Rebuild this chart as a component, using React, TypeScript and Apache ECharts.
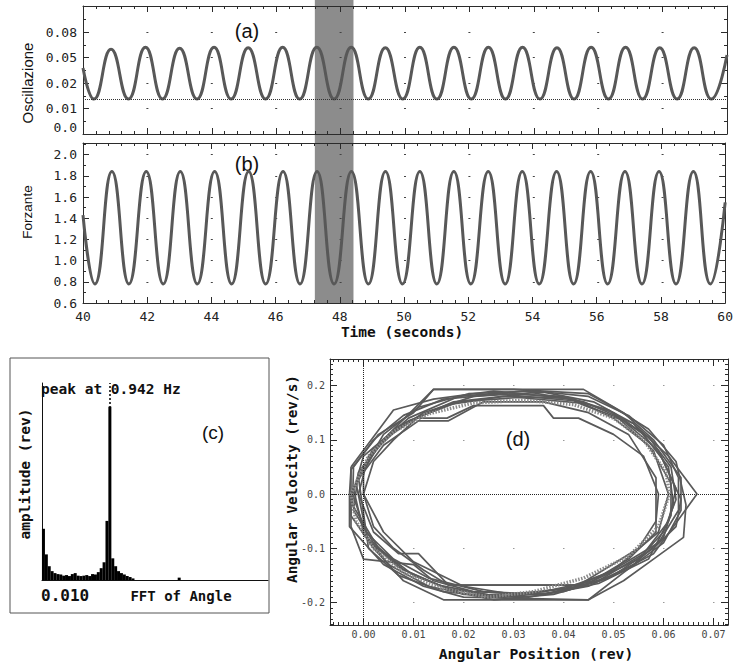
import React, { useEffect, useRef } from "react";
import * as echarts from "echarts";

// ---------- data ----------
const TIME_MIN = 40;
const TIME_MAX = 60;
const TIME_STEP = 2;
const HIGHLIGHT_WINDOW = [47.2, 48.4];

// panel (a): oscillation (plotted on an index scale, labelled with the printed ticks)
const OSC_TICK_LABELS = ["0.0", "0.01", "0.02", "0.05", "0.08"];
const OSC_TIMES = [
  40, 40.34, 40.87, 41.41, 41.94, 42.47, 43.0, 43.54, 44.07, 44.6, 45.13, 45.67, 46.2,
  46.73, 47.26, 47.8, 48.33, 48.86, 49.39, 49.93, 50.46, 50.99, 51.52, 52.06, 52.59,
  53.12, 53.65, 54.19, 54.72, 55.25, 55.78, 56.32, 56.85, 57.38, 57.91, 58.45, 58.98,
  59.51, 60,
];
const OSC_VALUES = [
  2.59, 1.37, 3.32, 1.37, 3.4, 1.37, 3.36, 1.37, 3.4, 1.37, 3.38, 1.37, 3.4, 1.37, 3.4,
  1.37, 3.4, 1.37, 3.38, 1.37, 3.4, 1.37, 3.4, 1.37, 3.4, 1.37, 3.4, 1.37, 3.38, 1.37,
  3.4, 1.37, 3.4, 1.37, 3.38, 1.37, 3.38, 1.37, 3.1,
];
const OSC_BASELINE = 1.37;

// panel (b): forcing
const FORCE_TIMES = [
  40, 40.37, 40.9, 41.43, 41.97, 42.5, 43.03, 43.56, 44.1, 44.63, 45.16, 45.69, 46.23,
  46.76, 47.29, 47.82, 48.36, 48.89, 49.42, 49.95, 50.49, 51.02, 51.55, 52.08, 52.62,
  53.15, 53.68, 54.21, 54.75, 55.28, 55.81, 56.34, 56.88, 57.41, 57.94, 58.47, 59.01,
  59.54, 60,
];
const FORCE_VALUES = [
  1.43, 0.78, 1.84, 0.78, 1.84, 0.78, 1.84, 0.78, 1.84, 0.78, 1.84, 0.78, 1.84, 0.78,
  1.84, 0.78, 1.84, 0.78, 1.84, 0.78, 1.84, 0.78, 1.84, 0.78, 1.84, 0.78, 1.84, 0.78,
  1.84, 0.78, 1.84, 0.78, 1.84, 0.78, 1.84, 0.78, 1.84, 0.78, 1.55,
];

// panel (c): FFT of angle
const FFT_FREQS = [
  0.02, 0.06, 0.1, 0.14, 0.18, 0.22, 0.26, 0.3, 0.34, 0.38, 0.42, 0.46, 0.5, 0.54, 0.58,
  0.62, 0.66, 0.7, 0.74, 0.78, 0.82, 0.86, 0.9, 0.94, 0.98, 1.02, 1.06, 1.1, 1.14, 1.18,
  1.22, 1.26, 1.9,
];
const FFT_AMPS = [
  0.26, 0.13, 0.07, 0.045, 0.035, 0.03, 0.028, 0.022, 0.025, 0.02, 0.03, 0.035, 0.022,
  0.02, 0.022, 0.025, 0.02, 0.03, 0.028, 0.04, 0.06, 0.09, 0.3, 0.88, 0.11, 0.07, 0.045,
  0.035, 0.028, 0.02, 0.015, 0.008, 0.012,
];
const FFT_PEAK_HZ = 0.942;

// panel (d): phase portrait loops [position (rev), velocity (rev/s)]
const LOOP_1 = [
  [-0.0025, 0.0], [0.0, 0.05], [0.005, 0.11], [0.014, 0.193], [0.044, 0.193], [0.052, 0.15],
  [0.058, 0.1], [0.0635, 0.03], [0.0635, -0.03], [0.06, -0.09], [0.052, -0.145],
  [0.045, -0.195], [0.016, -0.195], [0.008, -0.16], [0.002, -0.1], [-0.0025, -0.04],
  [-0.0025, 0.0],
];
const LOOP_2 = [
  [0.0, 0.0], [0.0, 0.04], [0.004, 0.09], [0.011, 0.135], [0.017, 0.135], [0.024, 0.17],
  [0.036, 0.17], [0.045, 0.15], [0.053, 0.11], [0.0585, 0.03], [0.0585, -0.07],
  [0.053, -0.12], [0.044, -0.17], [0.03, -0.185], [0.02, -0.17], [0.01, -0.125],
  [0.004, -0.07], [0.0, 0.0],
];
const LOOP_3 = [
  [-0.002, 0.01], [0.003, 0.09], [0.009, 0.14], [0.019, 0.18], [0.032, 0.19], [0.044, 0.17],
  [0.054, 0.13], [0.061, 0.07], [0.0667, 0.0], [0.062, -0.06], [0.058, -0.11],
  [0.049, -0.155], [0.038, -0.185], [0.026, -0.195], [0.013, -0.17], [0.005, -0.13],
  [0.0, -0.07], [-0.002, 0.01],
];
const LOOP_4 = [
  [-0.0022, -0.02], [-0.002, 0.05], [0.002, 0.1], [0.008, 0.145], [0.016, 0.175],
  [0.028, 0.185], [0.04, 0.18], [0.049, 0.155], [0.056, 0.11], [0.061, 0.05], [0.062, -0.02],
  [0.06, -0.08], [0.054, -0.13], [0.045, -0.17], [0.033, -0.19], [0.02, -0.185],
  [0.01, -0.15], [0.003, -0.1], [-0.0022, -0.02],
];
const LOOP_5 = [
  [-0.0025, 0.05], [0.006, 0.155], [0.014, 0.175], [0.026, 0.19], [0.042, 0.175],
  [0.05, 0.14], [0.057, 0.09], [0.0615, 0.02], [0.0615, -0.04], [0.057, -0.12],
  [0.047, -0.165], [0.036, -0.185], [0.022, -0.18], [0.014, -0.16], [0.01, -0.13],
  [0.0, -0.12], [-0.0025, -0.06], [-0.0025, 0.05],
];
const LOOP_6 = [
  [-0.001, 0.0], [0.001, 0.07], [0.008, 0.13], [0.018, 0.17], [0.03, 0.182], [0.042, 0.172],
  [0.051, 0.14], [0.058, 0.08], [0.061, 0.0], [0.059, -0.07], [0.05, -0.14], [0.043, -0.168],
  [0.017, -0.168], [0.011, -0.11], [0.007, -0.11], [0.002, -0.07], [-0.001, 0.0],
];
const LOOP_7 = [
  [-0.0015, 0.02], [0.002, 0.085], [0.009, 0.135], [0.019, 0.17], [0.031, 0.178],
  [0.043, 0.168], [0.052, 0.135], [0.059, 0.08], [0.0625, 0.01], [0.061, -0.05],
  [0.056, -0.11], [0.047, -0.16], [0.036, -0.185], [0.024, -0.18], [0.013, -0.155],
  [0.006, -0.12], [0.0005, -0.07], [-0.0015, 0.02],
];
const LOOP_8 = [
  [-0.002, -0.03], [-0.001, 0.04], [0.004, 0.1], [0.012, 0.15], [0.022, 0.18], [0.036, 0.188],
  [0.046, 0.17], [0.054, 0.13], [0.0595, 0.07], [0.0635, -0.01], [0.0625, -0.06],
  [0.058, -0.1], [0.05, -0.15], [0.04, -0.18], [0.028, -0.19], [0.017, -0.175],
  [0.008, -0.14], [0.002, -0.09], [-0.002, -0.03],
];
const LOOP_9 = [
  [0.0, 0.0], [0.002, 0.06], [0.006, 0.1], [0.0107, 0.14], [0.0167, 0.14], [0.022, 0.163],
  [0.036, 0.163], [0.038, 0.14], [0.043, 0.14], [0.05, 0.11], [0.056, 0.07], [0.059, 0.0],
  [0.0585, -0.05], [0.055, -0.1], [0.048, -0.14], [0.043, -0.168], [0.017, -0.168],
  [0.012, -0.14], [0.006, -0.1], [0.002, -0.06], [0.0, 0.0],
];
const LOOP_10 = [
  [-0.0028, 0.0], [-0.0025, 0.045], [0.003, 0.11], [0.01, 0.15], [0.014, 0.193], [0.03, 0.193],
  [0.045, 0.185], [0.05, 0.16], [0.057, 0.12], [0.0625, 0.06], [0.0645, -0.02], [0.064, -0.08],
  [0.058, -0.12], [0.052, -0.16], [0.045, -0.195], [0.02, -0.19], [0.012, -0.17],
  [0.004, -0.13], [-0.0028, -0.06], [-0.0028, 0.0],
];
const LOOP_11 = [
  [-0.001, 0.03], [0.004, 0.11], [0.011, 0.16], [0.021, 0.185], [0.034, 0.19], [0.045, 0.18],
  [0.053, 0.145], [0.06, 0.09], [0.063, 0.03], [0.063, -0.03], [0.059, -0.09],
  [0.049, -0.145], [0.04, -0.175], [0.027, -0.19], [0.016, -0.18], [0.007, -0.15],
  [0.001, -0.1], [-0.001, 0.03],
];
const LOOP_12 = [
  [-0.0022, 0.0], [0.0, 0.07], [0.007, 0.125], [0.017, 0.165], [0.028, 0.18], [0.041, 0.177],
  [0.05, 0.15], [0.057, 0.105], [0.0615, 0.05], [0.0625, -0.01], [0.06, -0.07],
  [0.055, -0.12], [0.046, -0.16], [0.036, -0.18], [0.025, -0.186], [0.015, -0.168],
  [0.007, -0.135], [0.001, -0.085], [-0.0022, 0.0],
];
const LOOP_LIGHT = [
  [-0.0025, 0.0], [0.001, 0.07], [0.006, 0.115], [0.013, 0.148], [0.022, 0.168],
  [0.032, 0.173], [0.042, 0.165], [0.05, 0.14], [0.056, 0.1], [0.0605, 0.04], [0.0612, 0.0],
  [0.059, -0.06], [0.053, -0.115], [0.044, -0.155], [0.034, -0.18], [0.025, -0.19],
  [0.016, -0.175], [0.008, -0.145], [0.002, -0.1], [-0.0015, -0.05], [-0.0025, 0.0],
];
const DARK_LOOPS = [
  LOOP_1, LOOP_2, LOOP_3, LOOP_4, LOOP_5, LOOP_6, LOOP_7, LOOP_8, LOOP_9, LOOP_10, LOOP_11,
  LOOP_12,
];

// ---------- styling helpers ----------
const MONO = "'DejaVu Sans Mono', monospace";
const SANS = "'Liberation Sans', Arial, sans-serif";
const AX = "#2b2b2b";

const zip = (xs: number[], ys: number[]) => xs.map((x, i) => [x, ys[i]]);

function timeAxis(gridIndex: number, position: string, showLabels: boolean) {
  return {
    type: "value",
    gridIndex,
    position,
    min: TIME_MIN,
    max: TIME_MAX,
    interval: TIME_STEP,
    axisLine: { show: true, onZero: false, lineStyle: { color: AX, width: 1 } },
    axisTick: { show: true, inside: true, length: 6, lineStyle: { color: AX } },
    minorTick: { show: true, splitNumber: 5, length: 3, lineStyle: { color: AX } },
    axisLabel: {
      show: showLabels,
      margin: 7,
      color: "#222",
      fontFamily: MONO,
      fontSize: 13,
    },
    splitLine: { show: false },
  };
}

function valueAxis(gridIndex: number, position: string, showLabels: boolean, o: any) {
  return {
    type: "value",
    gridIndex,
    position,
    min: o.min,
    max: o.max,
    interval: o.interval,
    splitNumber: o.splitNumber,
    axisLine: { show: true, onZero: false, lineStyle: { color: AX, width: 1 } },
    axisTick: { show: true, inside: true, length: o.tickLen ?? 6, lineStyle: { color: AX } },
    minorTick: { show: true, splitNumber: o.minor, length: 3, lineStyle: { color: AX } },
    axisLabel: {
      show: showLabels,
      margin: o.margin ?? 6,
      color: o.labelColor ?? "#222",
      fontFamily: MONO,
      fontSize: o.fontSize ?? 13,
      formatter: o.formatter,
      showMinLabel: o.showMinLabel,
      showMaxLabel: false,
      verticalAlignMinLabel: o.vAlignMin,
    },
    splitLine: o.split
      ? {
          show: true,
          showMinLine: false,
          showMaxLine: false,
          lineStyle: o.split,
        }
      : { show: false },
  };
}

function hiddenAxis(gridIndex: number, min: number, max: number) {
  return {
    type: "value",
    gridIndex,
    min,
    max,
    show: false,
    axisLine: { show: false, onZero: false },
    splitLine: { show: false },
  };
}

function boldText(text: string, x: number, y: number, size: number, rotate = 0, align = "center") {
  return {
    type: "text",
    x,
    y,
    rotation: rotate,
    style: {
      text,
      font: `bold ${size}px ${MONO}`,
      fill: "#111",
      align,
      verticalAlign: "middle",
    },
  };
}

function sansText(text: string, x: number, y: number, size: number, rotate = 0) {
  return {
    type: "text",
    x,
    y,
    rotation: rotate,
    style: {
      text,
      font: `${size}px ${SANS}`,
      fill: "#111",
      align: "center",
      verticalAlign: "middle",
    },
  };
}

export default function App() {
  const ref = useRef<HTMLDivElement>(null);

  useEffect(() => {
    if (!ref.current) return;
    const chart = echarts.init(ref.current, null, { renderer: "svg" });

    const timeDots = { color: "#444", width: 1, type: [2, 62.4], dashOffset: 1 };
    const phaseDots = { color: "#9a9a9a", width: 1, type: [1.5, 48.5], dashOffset: 17.45 };

    const option: any = {
      animation: false,
      backgroundColor: "#ffffff",
      grid: [
        { left: 83, top: 0, width: 644, height: 303 }, // band
        { left: 83, top: 6, width: 644, height: 128 }, // (a)
        { left: 83, top: 143, width: 644, height: 160 }, // (b)
        { left: 42, top: 383, width: 226, height: 197 }, // (c)
        { left: 330, top: 359, width: 398, height: 266 }, // (d)
      ],
      xAxis: [
        hiddenAxis(0, TIME_MIN, TIME_MAX),
        timeAxis(1, "bottom", false),
        timeAxis(1, "top", false),
        timeAxis(2, "bottom", true),
        timeAxis(2, "top", false),
        {
          type: "value",
          gridIndex: 3,
          min: 0,
          max: 3.13,
          axisLine: { show: true, onZero: false, lineStyle: { color: "#111" } },
          axisTick: { show: false },
          axisLabel: { show: false },
          splitLine: { show: false },
        },
        valueAxis(4, "bottom", true, {
          min: -0.0067,
          max: 0.0729,
          splitNumber: 8,
          minor: 10,
          tickLen: 7,
          margin: 4,
          fontSize: 10,
          labelColor: "#444",
          showMinLabel: false,
          formatter: (v: number) => v.toFixed(2),
        }),
        valueAxis(4, "top", false, { min: -0.0067, max: 0.0729, splitNumber: 8, minor: 10, tickLen: 7 }),
      ],
      yAxis: [
        hiddenAxis(0, 0, 1),
        valueAxis(1, "left", true, {
          min: 0,
          max: 5.02,
          interval: 1,
          minor: 2,
          vAlignMin: "bottom",
          formatter: (v: number) => OSC_TICK_LABELS[Math.round(v)] ?? "",
          split: timeDots,
        }),
        valueAxis(1, "right", false, { min: 0, max: 5.02, interval: 1, minor: 2 }),
        valueAxis(2, "left", true, {
          min: 0.6,
          max: 2.11,
          interval: 0.2,
          minor: 2,
          formatter: (v: number) => v.toFixed(1),
          split: timeDots,
        }),
        valueAxis(2, "right", false, { min: 0.6, max: 2.11, interval: 0.2, minor: 2 }),
        {
          type: "value",
          gridIndex: 3,
          min: 0,
          max: 1,
          axisLine: { show: true, onZero: false, lineStyle: { color: "#111" } },
          axisTick: { show: false },
          axisLabel: { show: false },
          splitLine: { show: false },
        },
        valueAxis(4, "left", true, {
          min: -0.2415,
          max: 0.249,
          splitNumber: 5,
          minor: 10,
          tickLen: 7,
          margin: 5,
          fontSize: 10,
          labelColor: "#444",
          showMinLabel: false,
          formatter: (v: number) => (Math.abs(v) < 1e-9 ? "0.0" : v.toFixed(1)),
          split: phaseDots,
        }),
        valueAxis(4, "right", false, { min: -0.2415, max: 0.249, splitNumber: 5, minor: 10, tickLen: 7 }),
      ],
      series: [
        {
          type: "line",
          xAxisIndex: 0,
          yAxisIndex: 0,
          data: [[HIGHLIGHT_WINDOW[0], 0.5]],
          symbol: "none",
          lineStyle: { opacity: 0 },
          silent: true,
          z: -1,
          markArea: {
            silent: true,
            z: -1,
            itemStyle: { color: "#8c8c8c", opacity: 1 },
            data: [[{ xAxis: HIGHLIGHT_WINDOW[0] }, { xAxis: HIGHLIGHT_WINDOW[1] }]],
          },
        },
        {
          type: "line",
          xAxisIndex: 1,
          yAxisIndex: 1,
          data: zip(OSC_TIMES, OSC_VALUES),
          smooth: 0.5,
          symbol: "none",
          lineStyle: { color: "#585858", width: 3 },
          markLine: {
            silent: true,
            symbol: ["none", "none"],
            label: { show: false },
            lineStyle: { color: "#333", type: "dotted", width: 1 },
            data: [{ yAxis: OSC_BASELINE }],
          },
        },
        {
          type: "line",
          xAxisIndex: 3,
          yAxisIndex: 3,
          data: zip(FORCE_TIMES, FORCE_VALUES),
          smooth: 0.5,
          symbol: "none",
          lineStyle: { color: "#585858", width: 3 },
        },
        {
          type: "bar",
          xAxisIndex: 5,
          yAxisIndex: 5,
          data: zip(FFT_FREQS, FFT_AMPS),
          barWidth: 3,
          itemStyle: { color: "#000" },
          markLine: {
            silent: true,
            symbol: ["none", "none"],
            label: { show: false },
            lineStyle: { color: "#000", type: [2, 2], width: 1.5 },
            data: [{ xAxis: FFT_PEAK_HZ }],
          },
        },
        ...DARK_LOOPS.map((loop) => ({
          type: "line",
          xAxisIndex: 6,
          yAxisIndex: 6,
          data: loop,
          symbol: "none",
          lineStyle: { color: "#5a5a5a", width: 1.7 },
        })),
        {
          type: "line",
          xAxisIndex: 6,
          yAxisIndex: 6,
          data: LOOP_LIGHT,
          symbol: "none",
          lineStyle: { color: "#8a8a8a", width: 3.5, type: [1.5, 1.5] },
          z: 3,
          markLine: {
            silent: true,
            symbol: ["none", "none"],
            label: { show: false },
            lineStyle: { color: "#222", type: "dotted", width: 1 },
            data: [{ xAxis: 0 }, { yAxis: 0 }],
          },
        },
      ],
      graphic: [
        sansText("(a)", 247, 31, 20),
        sansText("(b)", 247, 164, 20),
        sansText("Oscillazione", 27, 83, 15, Math.PI / 2),
        sansText("Forzante", 27, 212, 13.5, Math.PI / 2),
        boldText("Time (seconds)", 402, 332, 14.5),
        {
          type: "rect",
          shape: { x: 10, y: 358, width: 259, height: 255 },
          style: { fill: "none", stroke: "#555", lineWidth: 1 },
          silent: true,
        },
        boldText("peak at 0.942 Hz", 41, 389, 14.5, 0, "left"),
        sansText("(c)", 213, 432, 19),
        boldText("amplitude (rev)", 25, 474, 14.5, Math.PI / 2),
        boldText("0.010", 41, 595, 16, 0, "left"),
        boldText("FFT of Angle", 181, 596, 14),
        sansText("(d)", 518, 439, 20),
        boldText("Angular Velocity (rev/s)", 292, 479, 14.4, Math.PI / 2),
        boldText("Angular Position (rev)", 536, 653, 14.7),
      ],
    };

    chart.setOption(option);
    return () => chart.dispose();
  }, []);

  return (
    <div
      ref={ref}
      style={{ position: "fixed", left: 0, top: 0, width: 736, height: 665, background: "#fff" }}
    />
  );
}
